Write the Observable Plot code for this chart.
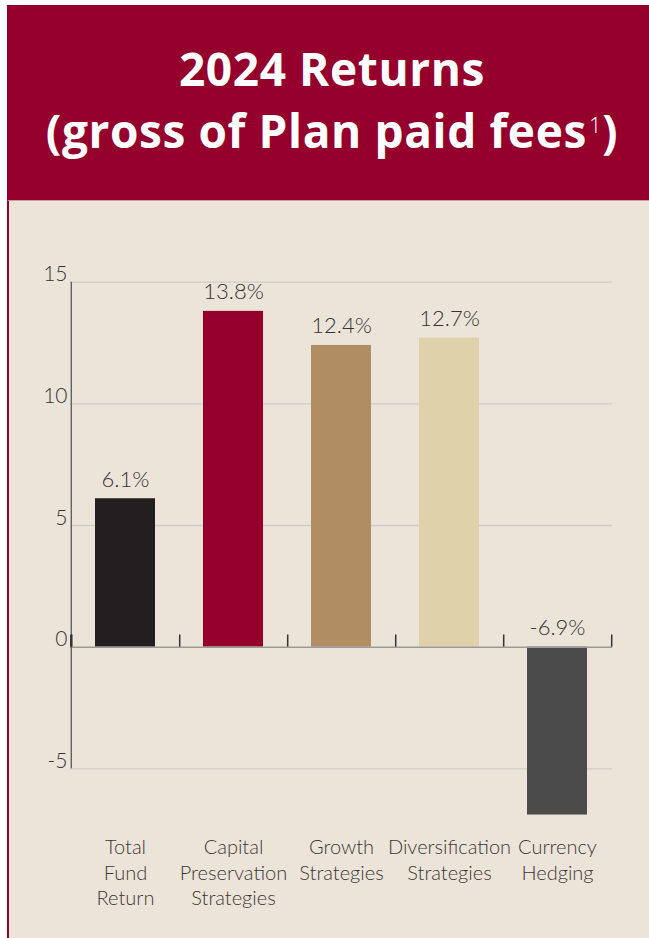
<!DOCTYPE html>
<html><head><meta charset="utf-8">
<script src="https://cdn.jsdelivr.net/npm/d3@7"></script>
<script src="https://cdn.jsdelivr.net/npm/@observablehq/plot@0.6"></script>
<style>
html,body{margin:0;padding:0;background:#fff;width:649px;height:938px;overflow:hidden}
#header{position:absolute;left:7px;top:5px;width:642px;height:195px;background:#94002b}
#title{position:absolute;left:4px;top:33px;width:642px;text-align:center;color:#fff;font-family:"Open Sans";font-weight:700;font-size:46px;line-height:61.5px;white-space:nowrap;letter-spacing:0.6px}
#title sup{font-size:22px;font-weight:300;vertical-align:top;position:relative;top:-6px;margin-left:2px}
#panel{position:absolute;left:7px;top:200px;width:642px;height:738px;background:#ede4d9;border-left:2.5px solid #94002b;border-top:1px solid #c9a0a4;box-sizing:border-box}
#chart{position:absolute;left:0;top:200px}
</style></head>
<body>
<div id="header"><div id="title">2024 Returns<br>(gross of Plan paid fees<sup>1</sup>)</div></div>
<div id="panel"></div>
<div id="chart"></div>
<script>
const categories = ["Total Fund Return","Capital Preservation Strategies","Growth Strategies","Diversification Strategies","Currency Hedging"];
const categoryLabels = ["Total\nFund\nReturn","Capital\nPreservation\nStrategies","Growth\nStrategies","Diversification\nStrategies","Currency\nHedging"];
const returns = [6.1, 13.8, 12.4, 12.7, -6.9];
const barColors = ["#231f20","#94002b","#b08d63","#dfd1aa","#4b4b4b"];
const yTicks = [15, 10, 5, 0, -5];
const gridValues = [15, 10, 5, -5];

const data = categories.map((c, i) => ({category: c, label: categoryLabels[i], value: returns[i]}));

const W = 649, H = 738, ML = 70, MR = 37;
const step = (W - ML - MR) / categories.length;

const chart = Plot.plot({
  width: W, height: H,
  marginLeft: ML, marginRight: MR, marginTop: 81.7, marginBottom: 169.7,
  x: {type: "band", domain: categories, padding: 0, axis: null},
  y: {domain: [-5, 15], axis: null},
  color: {type: "ordinal", domain: categories, range: barColors},
  style: {background: "transparent", fontFamily: "Lato", overflow: "visible"},
  marks: [
    Plot.ruleY(gridValues, {stroke: "#cdcdcd", strokeWidth: 1.3}),
    Plot.barY(data, {x: "category", y: "value", fill: "category", insetLeft: 24, insetRight: 24}),
    Plot.ruleY([0], {stroke: "#9a9a9a", strokeWidth: 1.5}),
    Plot.ruleX([categories[0]], {dx: -step / 2, y1: -5, y2: 15, stroke: "#5a5a5a", strokeWidth: 1.3}),
    Plot.ruleX([categories[0]], {dx: -step / 2, y1: 0, y2: 0.5, stroke: "#333", strokeWidth: 2.5}),
    Plot.ruleX(categories, {dx: step / 2, y1: 0, y2: 0.5, stroke: "#333", strokeWidth: 1.5}),
    Plot.text(data, {x: "category", y: d => Math.max(d.value, 0), text: d => d.value.toFixed(1) + "%", lineAnchor: "bottom", dy: -12, fontSize: 22, fontWeight: 300, fill: "#333"}),
    Plot.text(yTicks, {y: d => d, text: d => String(d), frameAnchor: "left", textAnchor: "end", dx: -3, dy: -1, lineAnchor: "bottom", fontSize: 21, fontWeight: 300, fill: "#333"}),
    Plot.text(data, {x: "category", text: "label", frameAnchor: "bottom", lineAnchor: "top", dy: 67, lineHeight: 1.285, fontSize: 20, fontWeight: 300, fill: "#3b3735"})
  ]
});
document.getElementById("chart").appendChild(chart);
</script>
</body></html>
